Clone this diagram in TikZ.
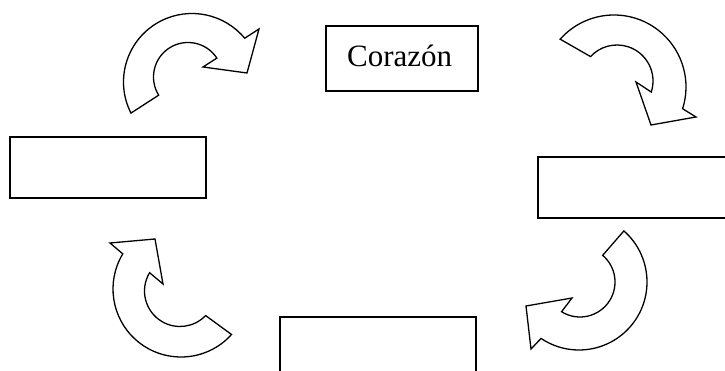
\documentclass[tikz,border=0pt]{standalone}
\usepackage{fontspec}
\setmainfont{Liberation Serif}
\begin{document}
\begin{tikzpicture}[x=1pt,y=1pt,
  box/.style={draw=black, line width=1.5pt, fill=white, rectangle, inner sep=0pt},
  bendarrow/.style={draw=black, line width=1.3pt, line join=miter, fill=white}]
\useasboundingbox (0,0) rectangle (725,371);

% boxes of the cycle
\node[box, minimum width=152, minimum height=65] (heart) at (402,312.5) {};
\node[anchor=base west, font=\fontsize{31}{36}\selectfont, inner sep=0pt] (heartlabel) at (347,304) {Corazón};
\node[box, minimum width=196, minimum height=61] (leftbox) at (108,203.5) {};
\node[box, minimum width=202, minimum height=61] (rightbox) at (639,183.5) {};
\node[box, minimum width=196, minimum height=74] (bottombox) at (378,17) {};

% curved block arrows, all turning clockwise
\coordinate (o1) at (192,289); \coordinate (i1) at (188,294);
\draw[bendarrow] ([shift={(207:68.5)}]o1) arc[start angle=207, end angle=39.7, radius=68.5]
  -- (259,342) -- (247,298) -- (203,304)
  -- ([shift={(33.2:34.5)}]i1) arc[start angle=33.2, end angle=211.8, radius=34.5] -- cycle;

\coordinate (o2) at (614,284); \coordinate (i2) at (617,290);
\draw[bendarrow] ([shift={(138.4:72)}]o2) arc[start angle=138.4, end angle=-17.6, radius=72]
  -- (696,254) -- (651,246) -- (636,289)
  -- ([shift={(-17.9:36)}]i2) arc[start angle=-17.9, end angle=137.3, radius=36] -- cycle;

\coordinate (o3) at (579,89); \coordinate (i3) at (580,89);
\draw[bendarrow] ([shift={(48.7:68)}]o3) arc[start angle=48.7, end angle=-123.9, radius=68]
  -- (531,22) -- (526,65) -- (572,73)
  -- ([shift={(-121.8:35)}]i3) arc[start angle=-121.8, end angle=49.6, radius=35] -- cycle;

\coordinate (o4) at (181,82); \coordinate (i4) at (180,80);
\draw[bendarrow] ([shift={(-42:68)}]o4) arc[start angle=-42, end angle=-211.1, radius=68]
  -- (110,128) -- (155,132) -- (163,87)
  -- ([shift={(-211:35.5)}]i4) arc[start angle=-211, end angle=-43.8, radius=35.5] -- cycle;
\end{tikzpicture}
\end{document}
